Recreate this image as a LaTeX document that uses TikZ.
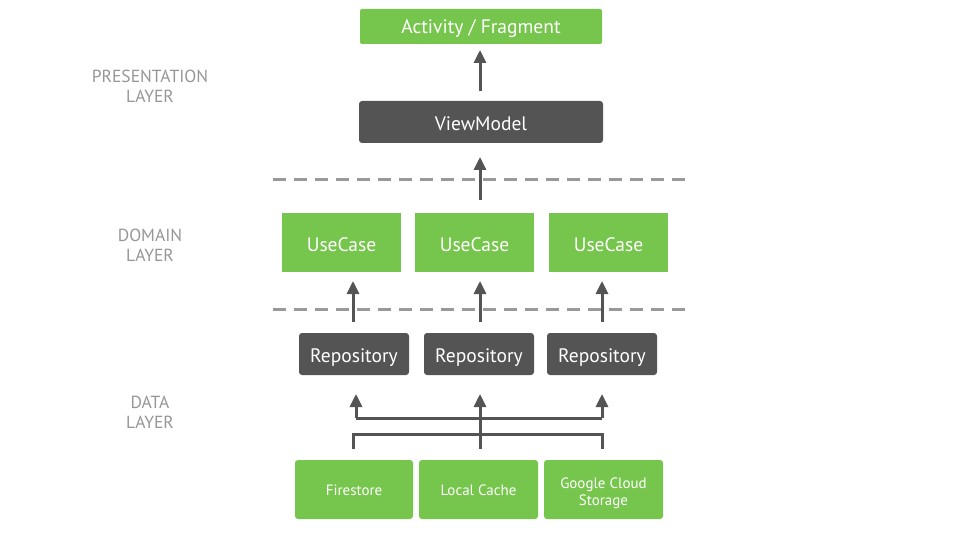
\documentclass[tikz,border=0pt]{standalone}
\usepackage{fontspec}
\setmainfont{PT Sans}
\usetikzlibrary{arrows.meta}
\definecolor{cgreen}{RGB}{118,197,76}
\definecolor{cdark}{RGB}{84,84,84}
\definecolor{cdash}{RGB}{153,153,153}
\definecolor{clabel}{RGB}{150,150,150}
\tikzset{
  box/.style={draw=none, inner sep=0pt, align=center, text=white, font=\fontsize{19.5}{21}\selectfont, text height=17pt, text depth=0pt},
  greenbox/.style={box, fill=cgreen, rounded corners=2pt},
  darkbox/.style={box, fill=cdark, rounded corners=3pt},
  srcbox/.style={box, fill=cgreen, rounded corners=3pt, font=\fontsize{15}{17}\selectfont, text height=12pt},
  srctext/.style={inner sep=0pt, align=center, text=white, font=\fontsize{15}{17}\selectfont},
  layerlabel/.style={align=center, text=clabel, font=\fontsize{17.5}{20}\selectfont, inner sep=0pt},
  arr/.style={draw=cdark, line width=3pt, -{Triangle[length=13pt,width=12pt]}},
  conn/.style={draw=cdark, line width=3pt},
  sep/.style={draw=cdash, line width=3pt, dash pattern=on 13pt off 8pt}
}
\begin{document}
\begin{tikzpicture}[x=1pt,y=-1pt]
\useasboundingbox (0,0) rectangle (960,540);
% layer labels
\node[layerlabel] (lp) at (150,86) {PRESENTATION\\LAYER};
\node[layerlabel] (ld) at (150,245) {DOMAIN\\LAYER};
\node[layerlabel] (lda) at (150,412) {DATA\\LAYER};
% separators
\coordinate (s1a) at (273,180); \coordinate (s1b) at (685,180);
\coordinate (s2a) at (273,309); \coordinate (s2b) at (685,309);
\draw[sep] (s1a) -- (s1b);
\draw[sep] (s2a) -- (s2b);
% presentation
\node[greenbox, minimum width=242pt, minimum height=35pt, text height=15pt] (act) at (481,26.5) {Activity / Fragment};
\node[darkbox, minimum width=244pt, minimum height=42pt] (vm) at (481,122) {ViewModel};
% domain
\node[greenbox, rounded corners=0pt, minimum width=119pt, minimum height=59pt] (uc1) at (341.5,242.5) {UseCase};
\node[greenbox, rounded corners=0pt, minimum width=119pt, minimum height=59pt] (uc2) at (474.5,242.5) {UseCase};
\node[greenbox, rounded corners=0pt, minimum width=119pt, minimum height=59pt] (uc3) at (608.5,242.5) {UseCase};
% repositories
\node[darkbox, minimum width=110pt, minimum height=42pt] (r1) at (354,354) {Repository};
\node[darkbox, minimum width=110pt, minimum height=42pt] (r2) at (479,354) {Repository};
\node[darkbox, minimum width=110pt, minimum height=42pt] (r3) at (602,354) {Repository};
% sources
\node[srcbox, minimum width=118pt, minimum height=59pt] (f) at (354,489.5) {Firestore};
\node[srcbox, minimum width=119pt, minimum height=59pt] (lc) at (478.5,489.5) {Local Cache};
\node[srcbox, minimum width=119pt, minimum height=59pt,
      label={[srctext, yshift=-3.5pt]center:Google Cloud\\Storage}] (gcs) at (603.5,489.5) {};
% arrows presentation/domain
\draw[arr] (480,91) -- (480,50);
\coordinate (vmin) at (480,200);
\draw[arr] (vmin) -- (480,157);
\coordinate (u1in) at (353,322); \coordinate (u2in) at (480,322); \coordinate (u3in) at (602,322);
\draw[arr] (u1in) -- (353,281);
\draw[arr] (u2in) -- (480,281);
\draw[arr] (u3in) -- (602,281);
% data connectors
\coordinate (ub1) at (356,418); \coordinate (ub3) at (602,418);
\draw[arr] (ub1) -- (356,394);
\draw[arr] (ub3) -- (602,394);
\draw[conn] (ub1) -- (ub3);
\coordinate (lb1) at (353,449); \coordinate (lb3) at (602,449);
\draw[conn] (lb1) -- (353,434) -- (602,434) -- (lb3);
\coordinate (mid) at (480,449);
\draw[arr] (mid) -- (480,394);
\end{tikzpicture}
\end{document}
